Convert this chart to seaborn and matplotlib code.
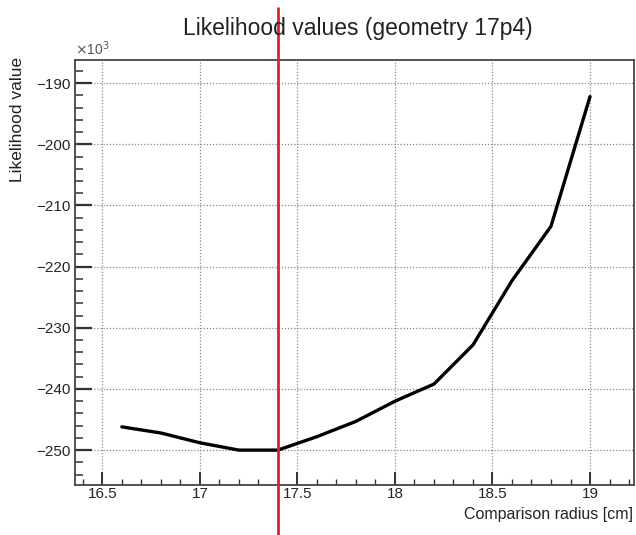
import matplotlib
matplotlib.use("Agg")
import matplotlib.pyplot as plt
import seaborn as sns
import pandas as pd
from matplotlib.ticker import MultipleLocator

# Likelihood scan over the comparison radius (values in units of 10^3)
radius_cm = [16.6, 16.8, 17.0, 17.2, 17.4, 17.6, 17.8, 18.0, 18.2, 18.4, 18.6, 18.8, 19.0]
likelihood_k = [-246.2, -247.2, -248.8, -250.0, -250.0, -247.8, -245.3, -242.0,
                -239.2, -232.8, -222.3, -213.4, -192.2]
best_radius = 17.4

x_ticks = [16.5, 17.0, 17.5, 18.0, 18.5, 19.0]
x_tick_labels = ["16.5", "17", "17.5", "18", "18.5", "19"]
y_ticks = [-250, -240, -230, -220, -210, -200, -190]

df = pd.DataFrame({"radius": radius_cm, "likelihood": likelihood_k})

sns.set_style("white")
plt.rcParams["font.family"] = ["Liberation Sans", "DejaVu Sans"]

fig = plt.figure(figsize=(6.36, 5.35), dpi=100)
ax = fig.add_axes([0.118, 0.0935, 0.879, 0.7945])

sns.lineplot(data=df, x="radius", y="likelihood", ax=ax, color="black",
             linewidth=2.4, estimator=None, sort=False)

ax.set_xlim(16.36, 19.226)
ax.set_ylim(-255.7, -186.2)

ax.set_xticks(x_ticks)
ax.set_xticklabels(x_tick_labels)
ax.set_yticks(y_ticks)
ax.xaxis.set_minor_locator(MultipleLocator(0.1))
ax.yaxis.set_minor_locator(MultipleLocator(2))

ax.grid(True, which="major", linestyle=(0, (1, 1.5)), color="#888888", linewidth=0.9)
ax.set_axisbelow(True)

ax.tick_params(which="both", bottom=True, left=True, top=False, right=False,
               direction="in", color="#333333")
ax.tick_params(axis="y", which="major", length=12, width=1.6, labelsize=11, pad=3)
ax.tick_params(axis="y", which="minor", length=5.5, width=1.1)
ax.tick_params(axis="x", which="major", length=9.5, width=1.4, labelsize=11, pad=1.5)
ax.tick_params(axis="x", which="minor", length=4.5, width=1.0)

for sp in ax.spines.values():
    sp.set_color("#444444")
    sp.set_linewidth(1.3)

ax.set_xlabel("")
ax.set_ylabel("")

# Best-fit radius marker, extending past the frame
ax.axvline(best_radius, ymin=-0.118, ymax=1.122, color="#e0202a",
           linewidth=2.0, clip_on=False, zorder=5)

fig.text(0.562, 0.947, "Likelihood values (geometry 17p4)", ha="center",
         va="center", fontsize=16.5, color="#222222")
fig.text(0.118, 0.892, r"$\times$10$^3$", ha="left", va="bottom",
         fontsize=10, color="#555555")
fig.text(0.027, 0.893, "Likelihood value", rotation=90, ha="center",
         va="top", fontsize=12.5, color="#222222")
fig.text(0.996, 0.038, "Comparison radius [cm]", ha="right", va="center",
         fontsize=11.5, color="#222222")

fig.savefig("out.png", dpi=100)
